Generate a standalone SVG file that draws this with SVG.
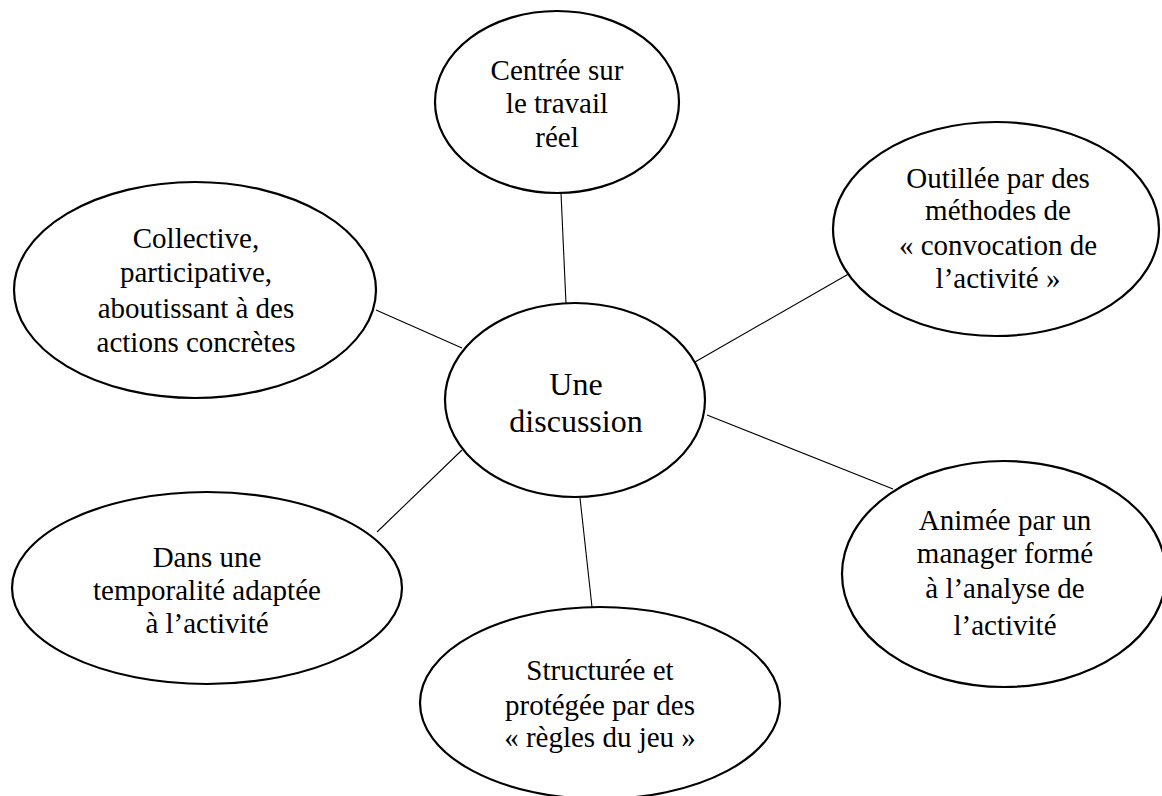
<svg xmlns="http://www.w3.org/2000/svg" width="1162" height="796" viewBox="0 0 1162 796">
<style>
.node ellipse{fill:#ffffff;stroke:#000000;stroke-width:2.2}
.node text{font-family:'Liberation Serif','Times New Roman',serif;font-size:29px;fill:#000000;text-anchor:middle}
#center text{font-size:32px}
#connectors line{stroke:#000000;stroke-width:1.1}
</style>
<rect width="1162" height="796" fill="#ffffff"/>
<g id="connectors">
<line x1="561" y1="193" x2="566" y2="304"/>
<line x1="695" y1="362" x2="852" y2="272"/>
<line x1="376" y1="310" x2="462" y2="348"/>
<line x1="462" y1="450" x2="377" y2="532"/>
<line x1="580" y1="498" x2="592" y2="607"/>
<line x1="707" y1="415" x2="893" y2="489"/>
</g>
<g id="center" class="node">
<ellipse cx="575" cy="400" rx="130" ry="97"/>
<text x="576" y="395">Une</text>
<text x="576" y="432">discussion</text>
</g>
<g id="top" class="node">
<ellipse cx="557" cy="102" rx="122" ry="91"/>
<text x="557" y="80">Centrée sur</text>
<text x="557" y="113">le travail</text>
<text x="557" y="147">réel</text>
</g>
<g id="right-top" class="node">
<ellipse cx="996" cy="229" rx="163" ry="107"/>
<text x="998" y="188">Outillée par des</text>
<text x="998" y="220">méthodes de</text>
<text x="998" y="255">« convocation de</text>
<text x="998" y="288">l’activité »</text>
</g>
<g id="left" class="node">
<ellipse cx="195" cy="290" rx="181" ry="108"/>
<text x="196" y="248">Collective,</text>
<text x="196" y="282">participative,</text>
<text x="196" y="318">aboutissant à des</text>
<text x="196" y="352">actions concrètes</text>
</g>
<g id="right-bottom" class="node">
<ellipse cx="1004" cy="574" rx="162" ry="113"/>
<text x="1005" y="530">Animée par un</text>
<text x="1005" y="563">manager formé</text>
<text x="1005" y="598">à l’analyse de</text>
<text x="1005" y="635">l’activité</text>
</g>
<g id="left-bottom" class="node">
<ellipse cx="207" cy="588" rx="195" ry="96"/>
<text x="207" y="567">Dans une</text>
<text x="207" y="600">temporalité adaptée</text>
<text x="207" y="633">à l’activité</text>
</g>
<g id="bottom" class="node">
<ellipse cx="600" cy="703" rx="180" ry="96"/>
<text x="600" y="680">Structurée et</text>
<text x="600" y="715">protégée par des</text>
<text x="600" y="747">« règles du jeu »</text>
</g>
</svg>
